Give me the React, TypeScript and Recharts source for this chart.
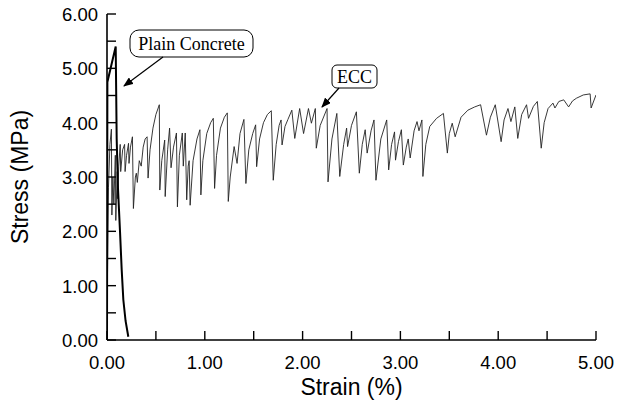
import React from 'react';
import { LineChart, Line, XAxis, YAxis } from 'recharts';

// strain (%), stress (MPa)
const plainConcrete: [number, number][] = [
  [0, 0], [0.002, 2.4], [0.004, 4.75], [0.089, 5.4], [0.099, 3.7], [0.112, 2.8],
  [0.133, 2.0], [0.15, 1.3], [0.167, 0.74], [0.19, 0.35], [0.218, 0.06],
];

const eccCurve: [number, number][] = [
  [0, 0], [0.005, 1.2], [0.015, 2.8], [0.03, 3.6], [0.045, 3.88], [0.05, 2.3], [0.06, 3.0],
  [0.07, 2.5], [0.085, 3.4], [0.09, 2.2], [0.105, 3.1], [0.11, 2.6], [0.12, 3.2], [0.135, 3.6],
  [0.14, 3.1], [0.16, 3.5], [0.18, 3.6], [0.185, 3.1], [0.2, 3.4], [0.22, 3.62], [0.225, 3.25],
  [0.24, 3.55], [0.26, 3.74], [0.27, 2.42], [0.29, 3.0], [0.3, 3.07], [0.31, 2.9], [0.33, 3.3],
  [0.35, 3.2], [0.37, 3.55], [0.39, 3.7], [0.41, 3.74], [0.42, 2.98], [0.44, 3.5], [0.47, 3.9],
  [0.5, 4.15], [0.535, 4.33], [0.54, 2.76], [0.56, 3.3], [0.59, 3.68], [0.595, 2.64], [0.62, 3.5],
  [0.64, 3.9], [0.655, 3.17], [0.68, 3.55], [0.71, 3.81], [0.72, 2.45], [0.74, 3.4], [0.77, 3.81],
  [0.78, 3.2], [0.8, 3.81], [0.815, 2.58], [0.83, 3.2], [0.84, 3.3], [0.85, 2.48], [0.88, 3.3],
  [0.92, 3.7], [0.95, 3.87], [0.96, 2.67], [0.98, 3.3], [1.02, 3.8], [1.06, 4.0], [1.087, 4.08],
  [1.1, 2.79], [1.12, 3.4], [1.16, 3.9], [1.2, 4.1], [1.23, 4.18], [1.24, 2.55], [1.26, 3.0],
  [1.3, 3.56], [1.33, 3.25], [1.36, 3.8], [1.4, 4.06], [1.42, 2.88], [1.45, 3.5], [1.49, 3.8],
  [1.52, 3.96], [1.53, 3.19], [1.56, 3.7], [1.6, 4.0], [1.64, 4.15], [1.68, 4.22], [1.7, 2.94],
  [1.73, 3.6], [1.76, 3.95], [1.78, 4.05], [1.79, 3.59], [1.82, 3.93], [1.85, 4.06], [1.89, 4.23],
  [1.92, 3.71], [1.97, 4.26], [2.01, 3.8], [2.06, 4.26], [2.09, 3.99], [2.13, 4.26], [2.14, 3.53],
  [2.18, 3.95], [2.25, 4.26], [2.26, 2.91], [2.3, 3.7], [2.35, 4.17], [2.38, 3.01], [2.42, 3.6],
  [2.45, 3.9], [2.46, 3.56], [2.5, 3.95], [2.55, 4.2], [2.58, 3.07], [2.61, 3.6], [2.64, 3.87],
  [2.66, 3.44], [2.7, 3.85], [2.73, 4.05], [2.75, 2.94], [2.8, 3.7], [2.86, 4.05], [2.88, 3.13],
  [2.91, 3.6], [2.94, 3.83], [2.95, 3.31], [2.98, 3.65], [3.01, 3.87], [3.03, 3.22], [3.06, 3.55],
  [3.08, 3.7], [3.1, 3.35], [3.14, 3.85], [3.17, 4.02], [3.19, 3.85], [3.22, 4.05], [3.23, 3.01],
  [3.26, 3.6], [3.3, 3.93], [3.37, 4.08], [3.44, 4.17], [3.48, 3.44], [3.5, 3.8], [3.53, 3.99],
  [3.56, 3.74], [3.62, 4.1], [3.69, 4.23], [3.76, 4.29], [3.82, 4.33], [3.88, 3.77], [3.92, 4.1],
  [3.97, 4.33], [4.03, 3.65], [4.06, 4.05], [4.1, 4.26], [4.13, 4.02], [4.17, 4.29], [4.2, 3.71],
  [4.24, 4.15], [4.29, 4.33], [4.31, 4.08], [4.36, 4.3], [4.4, 4.39], [4.44, 3.53], [4.47, 4.0],
  [4.51, 4.26], [4.56, 4.36], [4.58, 4.27], [4.62, 4.39], [4.67, 4.42], [4.72, 4.29], [4.76, 4.4],
  [4.8, 4.45], [4.87, 4.51], [4.94, 4.53], [4.95, 4.27], [5.0, 4.51],
];

const strainTicks = [0, 0.5, 1, 1.5, 2, 2.5, 3, 3.5, 4, 4.5, 5];
const stressTicks = [0, 0.5, 1, 1.5, 2, 2.5, 3, 3.5, 4, 4.5, 5, 5.5, 6];

const plainData = plainConcrete.map(([strain, stress]) => ({ strain, stress }));
const eccData = eccCurve.map(([strain, stress]) => ({ strain, stress }));

const SANS = '"Liberation Sans", Arial, sans-serif';
const SERIF = '"Liberation Serif", "Times New Roman", serif';
const TICK = 9;

const isMajor = (v: number) => Math.abs(v - Math.round(v)) < 1e-6;

const BottomTick = ({ x, y, payload }: any) => (
  <g>
    <line x1={x} y1={y} x2={x} y2={y - TICK} stroke="#000" strokeWidth={1.4} />
    {isMajor(payload.value) && (
      <text x={x} y={y + 29} textAnchor="middle" fontFamily={SANS} fontSize={18.5} fill="#000">
        {payload.value.toFixed(2)}
      </text>
    )}
  </g>
);

const TopTick = ({ x, y }: any) => (
  <line x1={x} y1={y} x2={x} y2={y + TICK} stroke="#000" strokeWidth={1.4} />
);

const LeftTick = ({ x, y, payload }: any) => (
  <g>
    <line x1={x} y1={y} x2={x + TICK} y2={y} stroke="#000" strokeWidth={1.4} />
    {isMajor(payload.value) && (
      <text x={x - 9} y={y + 7} textAnchor="end" fontFamily={SANS} fontSize={18.5} fill="#000">
        {payload.value.toFixed(2)}
      </text>
    )}
  </g>
);

const RightTick = ({ x, y }: any) => (
  <line x1={x} y1={y} x2={x - TICK} y2={y} stroke="#000" strokeWidth={1.4} />
);

const Annotations = () => (
  <svg width={617} height={402} style={{ position: 'absolute', left: 0, top: 0, pointerEvents: 'none' }}>
    <defs>
      <marker id="ah" markerWidth="10" markerHeight="8" refX="9" refY="4" orient="auto" markerUnits="userSpaceOnUse">
        <path d="M0,0 L10,4 L0,8 Z" fill="#000" />
      </marker>
    </defs>
    <rect x={130} y={30} width={123} height={27} rx={9} fill="#fff" stroke="#000" strokeWidth={1} />
    <text x={191.5} y={49.5} textAnchor="middle" fontFamily={SERIF} fontSize={18} fill="#000">Plain Concrete</text>
    <line x1={163} y1={57} x2={124} y2={86} stroke="#000" strokeWidth={1.2} markerEnd="url(#ah)" />
    <rect x={332} y={65} width={45} height={23} rx={5} fill="#fff" stroke="#000" strokeWidth={1} />
    <text x={354.5} y={82.5} textAnchor="middle" fontFamily={SERIF} fontSize={18} fill="#000">ECC</text>
    <line x1={339} y1={88} x2={322} y2={107} stroke="#000" strokeWidth={1.2} markerEnd="url(#ah)" />
  </svg>
);

export default function App() {
  return (
    <div style={{ position: 'absolute', left: 0, top: 0, width: 617, height: 402, background: '#fff' }}>
      <LineChart width={617} height={402} margin={{ top: 14, right: 21, left: 0, bottom: 0 }}>
        <XAxis
          xAxisId="b"
          type="number"
          dataKey="strain"
          domain={[0, 5]}
          ticks={strainTicks}
          allowDataOverflow
          height={62}
          tickSize={0}
          tickMargin={0}
          tickLine={false}
          axisLine={{ stroke: '#000', strokeWidth: 1.6 }}
          tick={BottomTick}
          interval={0}
          label={{ value: 'Strain (%)', position: 'insideBottom', offset: 7, style: { fontFamily: SANS, fontSize: 23, fill: '#000' } }}
        />
        <XAxis
          xAxisId="t"
          orientation="top"
          type="number"
          dataKey="strain"
          domain={[0, 5]}
          ticks={strainTicks}
          allowDataOverflow
          height={0}
          tickSize={0}
          tickMargin={0}
          tickLine={false}
          axisLine={{ stroke: '#000', strokeWidth: 1.6 }}
          tick={TopTick}
          interval={0}
        />
        <YAxis
          yAxisId="l"
          type="number"
          dataKey="stress"
          domain={[0, 6]}
          ticks={stressTicks}
          allowDataOverflow
          width={107}
          tickSize={0}
          tickMargin={0}
          tickLine={false}
          axisLine={{ stroke: '#000', strokeWidth: 1.6 }}
          tick={LeftTick}
          interval={0}
          label={{ value: 'Stress (MPa)', angle: -90, position: 'insideLeft', offset: 20, style: { fontFamily: SANS, fontSize: 23, fill: '#000', textAnchor: 'middle' } }}
        />
        <YAxis
          yAxisId="r"
          orientation="right"
          type="number"
          dataKey="stress"
          domain={[0, 6]}
          ticks={stressTicks}
          allowDataOverflow
          width={0}
          tickSize={0}
          tickMargin={0}
          tickLine={false}
          axisLine={{ stroke: '#000', strokeWidth: 1.6 }}
          tick={RightTick}
          interval={0}
        />
        <Line
          xAxisId="b"
          yAxisId="l"
          data={eccData}
          dataKey="stress"
          type="linear"
          stroke="#222"
          strokeWidth={0.9}
          dot={false}
          isAnimationActive={false}
        />
        <Line
          xAxisId="b"
          yAxisId="l"
          data={plainData}
          dataKey="stress"
          type="linear"
          stroke="#000"
          strokeWidth={2}
          dot={false}
          isAnimationActive={false}
        />
      </LineChart>
      <Annotations />
    </div>
  );
}
